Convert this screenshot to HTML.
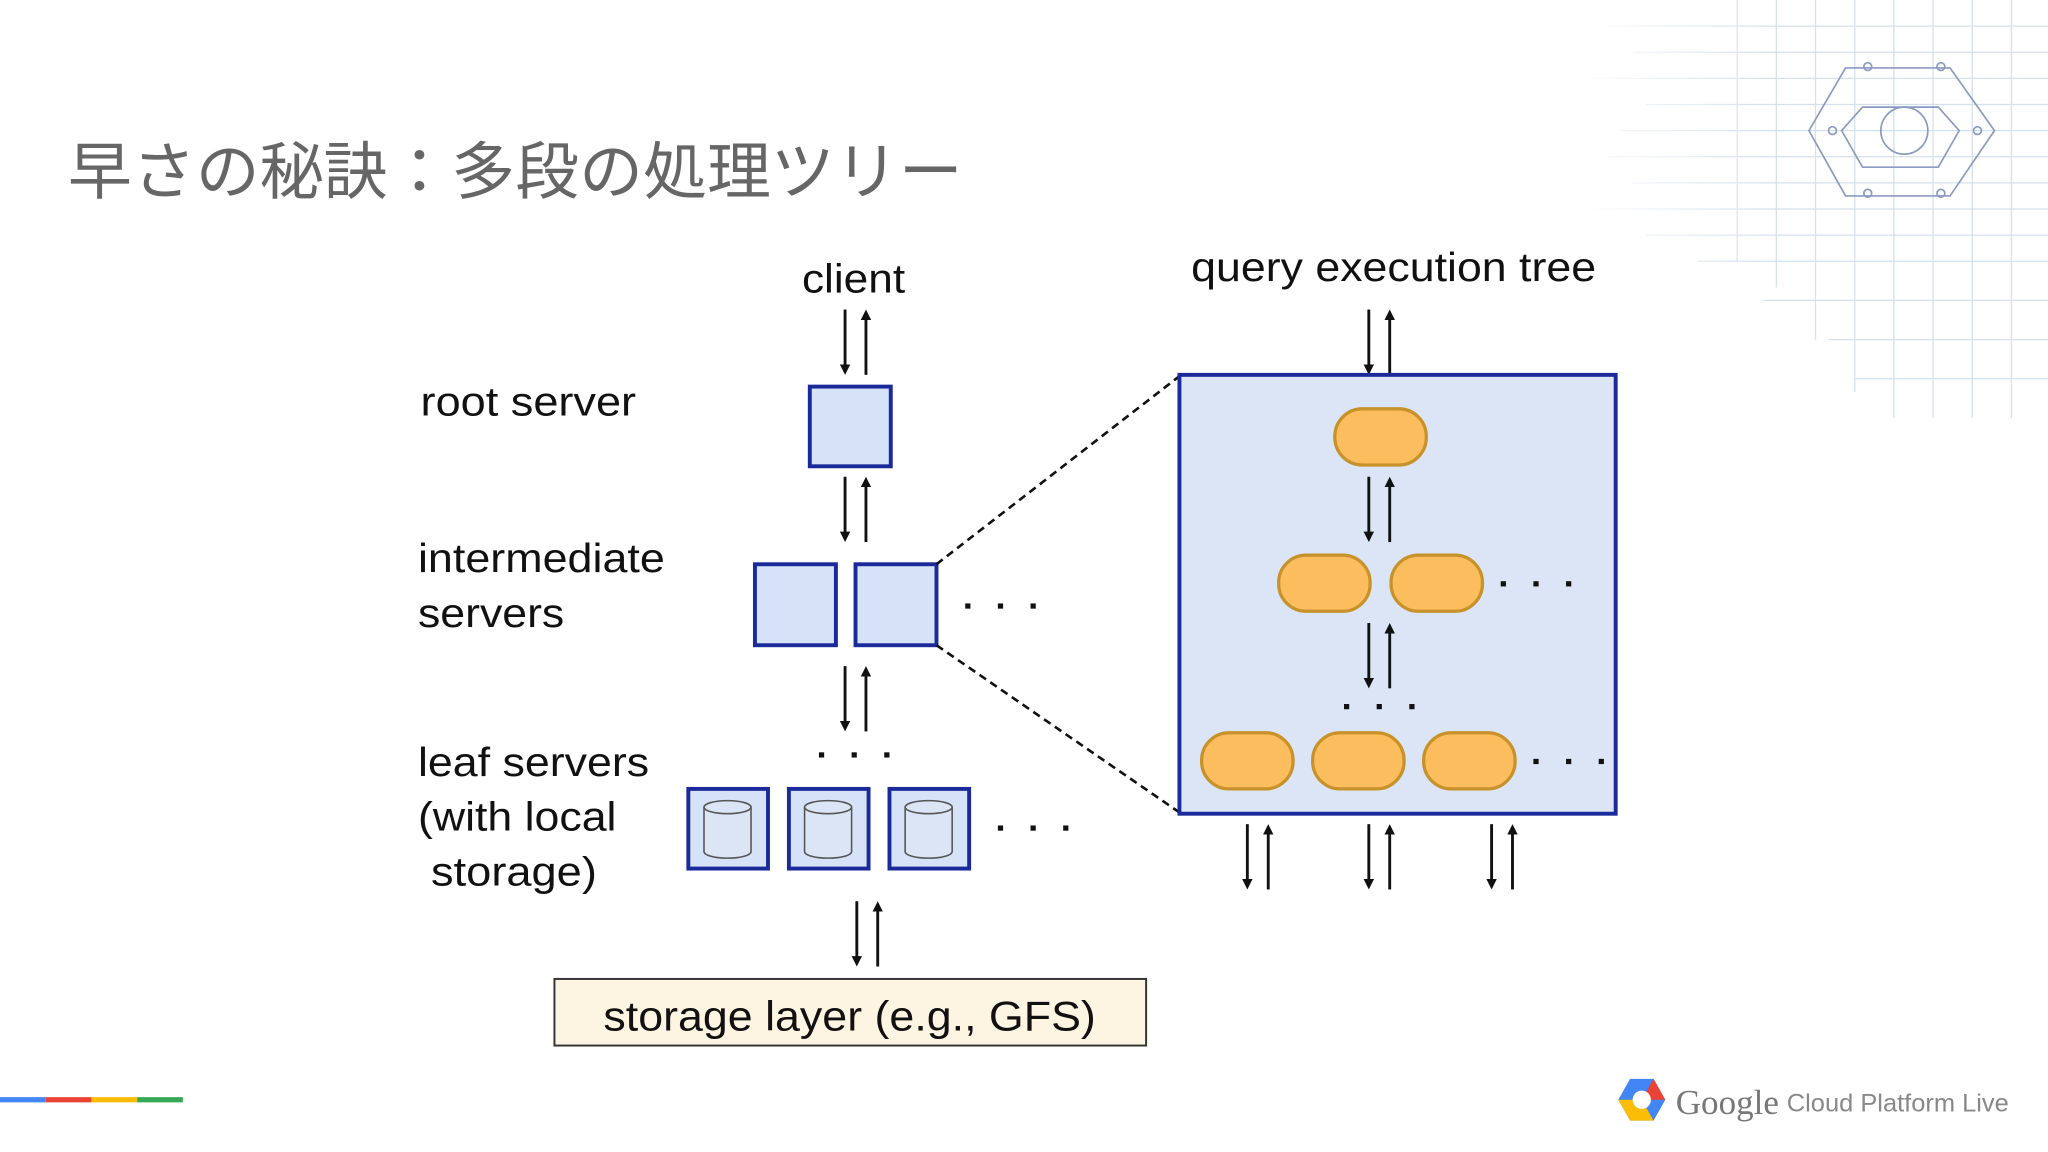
<!DOCTYPE html>
<html><head><meta charset="utf-8"><style>
html,body{margin:0;padding:0;background:#fff;}
svg{display:block;}
</style></head><body>
<svg width="2048" height="1152" viewBox="0 0 1568 882" xmlns="http://www.w3.org/2000/svg">
<defs>
<marker id="ah" markerWidth="8" markerHeight="8" refX="4" refY="4" orient="auto" markerUnits="userSpaceOnUse">
<path d="M0,0 L8,4 L0,8 z" fill="#111"/>
</marker>
<linearGradient id="gridfade" x1="0" y1="0" x2="1" y2="0">
<stop offset="0" stop-color="#fff" stop-opacity="1"/>
<stop offset="1" stop-color="#fff" stop-opacity="0"/>
</linearGradient>
<g id="pair">
<line x1="0" y1="0" x2="0" y2="46" stroke="#111" stroke-width="2.2" marker-end="url(#ah)"/>
<line x1="16" y1="50" x2="16" y2="4" stroke="#111" stroke-width="2.2" marker-end="url(#ah)"/>
</g>
<g id="cyl">
<rect x="0" y="0" width="61" height="61" fill="#d6e2f7" stroke="#1a2a9a" stroke-width="3"/>
<path d="M12,14 v34 a18,5 0 0 0 36,0 v-34" fill="#dbe5f6" stroke="#555" stroke-width="1.2"/>
<ellipse cx="30" cy="14" rx="18" ry="5" fill="#dbe5f6" stroke="#555" stroke-width="1.2"/>
</g>
</defs>

<!-- decorative grid top-right -->
<g stroke="#b9cde0" stroke-width="1" opacity="0.6">
<line x1="1230" y1="20" x2="1568" y2="20"/><line x1="1250" y1="40" x2="1568" y2="40"/>
<line x1="1220" y1="60" x2="1568" y2="60"/><line x1="1260" y1="80" x2="1568" y2="80"/>
<line x1="1240" y1="100" x2="1568" y2="100"/><line x1="1230" y1="120" x2="1568" y2="120"/>
<line x1="1250" y1="140" x2="1568" y2="140"/><line x1="1220" y1="160" x2="1568" y2="160"/>
<line x1="1260" y1="180" x2="1568" y2="180"/><line x1="1300" y1="200" x2="1568" y2="200"/>
<line x1="1350" y1="230" x2="1568" y2="230"/><line x1="1400" y1="260" x2="1568" y2="260"/>
<line x1="1420" y1="290" x2="1568" y2="290"/>
<line x1="1330" y1="0" x2="1330" y2="200"/><line x1="1360" y1="0" x2="1360" y2="220"/>
<line x1="1390" y1="0" x2="1390" y2="260"/><line x1="1420" y1="0" x2="1420" y2="300"/>
<line x1="1450" y1="0" x2="1450" y2="320"/><line x1="1480" y1="0" x2="1480" y2="320"/>
<line x1="1510" y1="0" x2="1510" y2="320"/><line x1="1540" y1="0" x2="1540" y2="320"/>
</g>
<rect x="1200" y="0" width="160" height="320" fill="url(#gridfade)"/>
<g fill="none" stroke="#8a9ac0" stroke-width="1.3">
<path d="M1413,52 L1493,52 L1527,100 L1493,150 L1413,150 L1385,100 Z"/>
<path d="M1426,82 L1484,82 L1500,100 L1484,128 L1426,128 L1410,100 Z"/>
<circle cx="1458" cy="100" r="18"/>
<circle cx="1430" cy="51" r="3"/><circle cx="1486" cy="51" r="3"/>
<circle cx="1403" cy="100" r="3"/><circle cx="1514" cy="100" r="3"/>
<circle cx="1430" cy="148" r="3"/><circle cx="1486" cy="148" r="3"/>
</g>

<!-- title -->
<text x="52" y="148" font-family="'Liberation Sans','Noto Sans CJK JP',sans-serif" font-size="48" fill="#666" textLength="685" lengthAdjust="spacingAndGlyphs">早さの秘訣：多段の処理ツリー</text>

<g font-family="'Liberation Sans',sans-serif" fill="#111" font-size="31" lengthAdjust="spacingAndGlyphs">
<text x="614" y="224" textLength="79" lengthAdjust="spacingAndGlyphs">client</text>
<text x="912" y="215" textLength="310" lengthAdjust="spacingAndGlyphs">query execution tree</text>
<text x="322" y="318" textLength="165" lengthAdjust="spacingAndGlyphs">root server</text>
<text x="320" y="438" textLength="189" lengthAdjust="spacingAndGlyphs">intermediate</text>
<text x="320" y="480" textLength="112" lengthAdjust="spacingAndGlyphs">servers</text>
<text x="320" y="594" textLength="177" lengthAdjust="spacingAndGlyphs">leaf servers</text>
<text x="320" y="636" textLength="152" lengthAdjust="spacingAndGlyphs">(with local</text>
<text x="330" y="678" textLength="127" lengthAdjust="spacingAndGlyphs">storage)</text>
</g>

<!-- left column -->
<use href="#pair" x="647" y="237"/>
<rect x="620" y="296" width="62" height="61" fill="#d6e2f7" stroke="#1a2a9a" stroke-width="3"/>
<use href="#pair" x="647" y="365"/>
<rect x="578" y="432" width="62" height="62" fill="#d6e2f7" stroke="#1a2a9a" stroke-width="3"/>
<rect x="655" y="432" width="62" height="62" fill="#d6e2f7" stroke="#1a2a9a" stroke-width="3"/>
<use href="#pair" x="647" y="510"/>
<use href="#cyl" x="527" y="604"/>
<use href="#cyl" x="604" y="604"/>
<use href="#cyl" x="681" y="604"/>
<use href="#pair" x="656" y="690"/>
<rect x="424.5" y="749.5" width="453" height="51" fill="#fdf5e2" stroke="#333" stroke-width="1.5"/>
<text x="462" y="789" font-family="'Liberation Sans',sans-serif" font-size="32" fill="#111" textLength="377" lengthAdjust="spacingAndGlyphs">storage layer (e.g., GFS)</text>

<!-- dashed zoom lines -->
<line x1="717" y1="432" x2="903" y2="288" stroke="#111" stroke-width="2" stroke-dasharray="6,4"/>
<line x1="717" y1="494" x2="903" y2="622" stroke="#111" stroke-width="2" stroke-dasharray="6,4"/>

<!-- big box -->
<use href="#pair" x="1048" y="237"/>
<rect x="903" y="287" width="334" height="336" fill="#dbe5f6" stroke="#1a2a9a" stroke-width="3"/>
<g fill="#fbbd5e" stroke="#c8922a" stroke-width="2.5">
<rect x="1022" y="313" width="70" height="43" rx="21"/>
<rect x="979" y="425" width="70" height="43" rx="21"/>
<rect x="1065" y="425" width="70" height="43" rx="21"/>
<rect x="920" y="561" width="70" height="43" rx="21"/>
<rect x="1005" y="561" width="70" height="43" rx="21"/>
<rect x="1090" y="561" width="70" height="43" rx="21"/>
</g>
<use href="#pair" x="1048" y="365"/>
<use href="#pair" x="1048" y="477"/>
<use href="#pair" x="955" y="631"/>
<use href="#pair" x="1048" y="631"/>
<use href="#pair" x="1142" y="631"/>

<!-- dots -->
<g fill="#111">
<rect x="739" y="462" width="4" height="4"/><rect x="764" y="462" width="4" height="4"/><rect x="789" y="462" width="4" height="4"/>
<rect x="627" y="576" width="4" height="4"/><rect x="652" y="576" width="4" height="4"/><rect x="677" y="576" width="4" height="4"/>
<rect x="764" y="632" width="4" height="4"/><rect x="789" y="632" width="4" height="4"/><rect x="814" y="632" width="4" height="4"/>
<rect x="1149" y="445" width="4" height="4"/><rect x="1174" y="445" width="4" height="4"/><rect x="1199" y="445" width="4" height="4"/>
<rect x="1029" y="539" width="4" height="4"/><rect x="1054" y="539" width="4" height="4"/><rect x="1079" y="539" width="4" height="4"/>
<rect x="1174" y="581" width="4" height="4"/><rect x="1199" y="581" width="4" height="4"/><rect x="1224" y="581" width="4" height="4"/>
</g>

<!-- color bar -->
<rect x="0" y="840" width="35" height="4" fill="#4285f4"/>
<rect x="35" y="840" width="35" height="4" fill="#ea4335"/>
<rect x="70" y="840" width="35" height="4" fill="#fbbc05"/>
<rect x="105" y="840" width="35" height="4" fill="#34a853"/>

<!-- logo -->
<g>
<path d="M1248,826 L1266,826 L1275,842 L1266,858 L1248,858 L1239,842 Z" fill="#4285f4"/>
<path d="M1239,842 L1248,858 L1266,858 L1257,842 Z" fill="#fbbc05"/>
<path d="M1266,826 L1275,842 L1257,842 Z" fill="#ea4335"/>
<circle cx="1257" cy="842" r="7" fill="#fff"/>
</g>
<text x="1283" y="853" font-family="'Liberation Serif',serif" font-size="27" fill="#777" textLength="79" lengthAdjust="spacingAndGlyphs">Google</text>
<text x="1368" y="851" font-family="'Liberation Sans',sans-serif" font-size="19" fill="#888" textLength="170" lengthAdjust="spacingAndGlyphs">Cloud Platform Live</text>
</svg>
</body></html>
